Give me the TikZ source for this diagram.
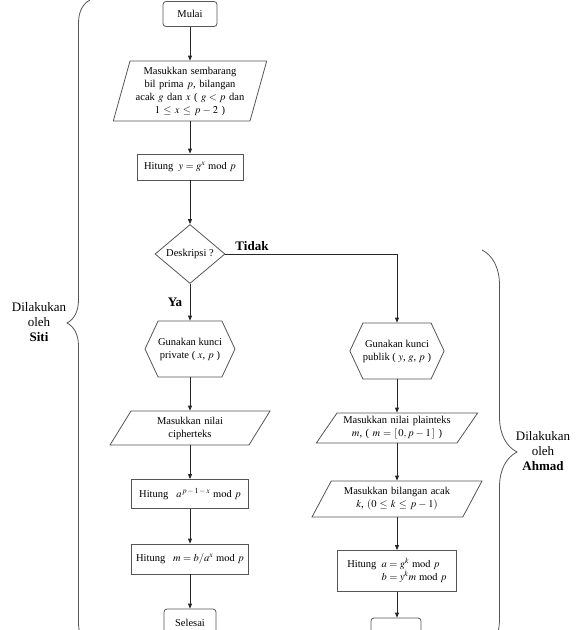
\documentclass[tikz,border=0pt]{standalone}
\usepackage{fontspec}
\usepackage{mathptmx}
\setmainfont{Liberation Serif}
\usetikzlibrary{shapes.geometric,shapes.symbols,arrows.meta,decorations.pathreplacing}
\definecolor{garis}{RGB}{85,85,85}

\begin{document}
\begin{tikzpicture}[x=1pt,y=-1pt,
	every node/.style={font=\fontsize{10.5}{13}\selectfont, align=center},
	bentuk/.style={draw=garis, line width=0.8pt, inner sep=0pt},
	terminal/.style={bentuk, rounded corners=3pt, minimum width=54pt, minimum height=25pt},
	proses/.style={bentuk, rectangle},
	masukan/.style={bentuk, trapezium, trapezium stretches body},
	keputusan/.style={bentuk, diamond, aspect=1.19, minimum width=70pt, minimum height=59pt},
	kunci/.style={bentuk, signal, signal to=west and east, signal pointer angle=130, minimum height=56pt},
	panah/.style={draw=black!85, line width=0.8pt, -{Triangle[length=5pt,width=4pt]}},
	tebal/.style={font=\fontsize{13}{15}\selectfont\bfseries},
	kurung/.style={draw=garis, line width=0.8pt, decorate},
	]
	\useasboundingbox (0,0) rectangle (584,630);

	% kolom kiri
	\node[terminal] (mulai) at (190,14) {Mulai};
	\node[masukan, trapezium left angle=71, trapezium right angle=109, minimum width=150pt, minimum height=60pt, text width=120pt] (input) at (190,91)
		{Masukkan sembarang\\ bil prima $p$, bilangan\\ acak $g$ dan $x$ ( $g<p$ dan\\ $1 \le x \le p-2$ )};
	\node[proses, minimum width=106pt, minimum height=26pt] (hitungy) at (190,167) {Hitung \ $y = g^x \bmod p$};
	\node[keputusan] (deskripsi) at (190,254) {Deskripsi ?};
	\node[kunci, minimum width=88pt] (privat) at (190,349) {Gunakan kunci\\ private ( $x$, $p$ )};
	\node[masukan, trapezium left angle=47, trapezium right angle=133, minimum width=160pt, minimum height=34pt, text width=100pt] (cipher) at (190,428)
		{Masukkan nilai\\ cipherteks};
	\node[proses, minimum width=117pt, minimum height=29pt] (hitunga) at (190,494) {Hitung \ \ $a^{\,p\,-\,1\,-\,x} \bmod p$};
	\node[proses, minimum width=117pt, minimum height=30pt] (hitungm) at (190,559) {Hitung \ \ $m = b/a^x \bmod p$};
	\node[terminal, minimum width=52pt, minimum height=28pt] (selesai) at (190,623) {Selesai};

	% kolom kanan
	\node[kunci, minimum width=92pt] (publik) at (397,351) {Gunakan kunci\\ publik ( $y$, $g$, $p$ )};
	\node[masukan, trapezium left angle=48, trapezium right angle=132, minimum width=158pt, minimum height=30pt, text width=120pt] (plain) at (397,428)
		{Masukkan nilai plainteks\\ $m$, ( $m = [\,0, p-1\,]$ )};
	\node[masukan, trapezium left angle=50, trapezium right angle=130, minimum width=170pt, minimum height=36pt, text width=120pt] (acak) at (397,499)
		{Masukkan bilangan acak\\ $k$, $(0 \le k \le p-1)$};
	\node[proses, minimum width=119pt, minimum height=41pt] (hitungab) at (397,571)
		{\begin{tabular}{@{}l@{\ \ }l@{}}Hitung & $a = g^k \bmod p$\\ & $b = y^k m \bmod p$\end{tabular}};
	\node[terminal, minimum width=50pt, minimum height=28pt] (selesaidua) at (396,632) {};

	\foreach \a/\b in {mulai/input,input/hitungy,hitungy/deskripsi,deskripsi/privat,privat/cipher,cipher/hitunga,hitunga/hitungm,hitungm/selesai,publik/plain,plain/acak,acak/hitungab,hitungab/selesaidua} {
		\draw[panah] (\a.south) -- (\a.south |- \b.north);
	}
	\draw[panah] (deskripsi.east) -| (publik.north);

	\node[tebal] (ya) at (175,302) {Ya};
	\node[tebal] (tidak) at (252,246) {Tidak};

	% kurung kurawal
	\draw[kurung, decoration={brace, amplitude=23pt}] (90,646) -- (90,0);
	\node[font=\fontsize{13}{15}\selectfont] (siti) at (39,322) {Dilakukan\\ oleh\\ \textbf{Siti}};
	\draw[kurung, decoration={brace, amplitude=35pt}] (482,250) -- (482,654);
	\node[font=\fontsize{13}{15}\selectfont] (ahmad) at (543,451) {Dilakukan\\ oleh\\ \textbf{Ahmad}};
\end{tikzpicture}
\end{document}
